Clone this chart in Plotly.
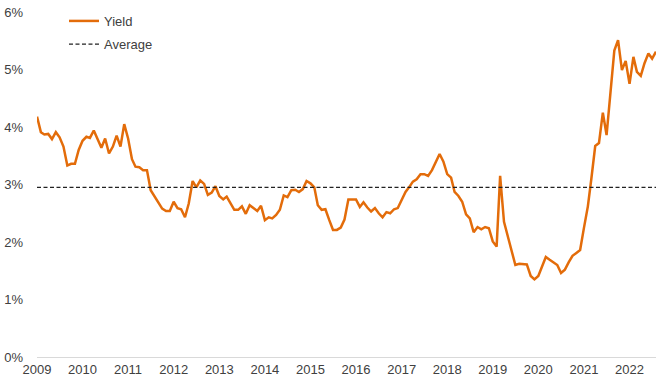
import plotly.graph_objects as go
import pandas as pd

# Monthly yield (%) Jan 2009 .. Aug 2022
yield_2009 = [4.18, 3.91, 3.87, 3.88, 3.79, 3.91, 3.82, 3.66, 3.33, 3.36, 3.36, 3.60]
yield_2010 = [3.76, 3.83, 3.81, 3.94, 3.79, 3.64, 3.80, 3.54, 3.66, 3.85, 3.66, 4.05]
yield_2011 = [3.80, 3.44, 3.31, 3.30, 3.25, 3.25, 2.90, 2.79, 2.67, 2.58, 2.54, 2.54]
yield_2012 = [2.70, 2.59, 2.57, 2.43, 2.67, 3.06, 2.95, 3.07, 3.01, 2.82, 2.86, 2.97]
yield_2013 = [2.80, 2.74, 2.79, 2.68, 2.56, 2.56, 2.62, 2.49, 2.64, 2.59, 2.54, 2.63]
yield_2014 = [2.38, 2.43, 2.41, 2.47, 2.56, 2.81, 2.78, 2.90, 2.91, 2.87, 2.92, 3.06]
yield_2015 = [3.02, 2.95, 2.64, 2.56, 2.57, 2.38, 2.21, 2.21, 2.25, 2.39, 2.74, 2.74]
yield_2016 = [2.74, 2.61, 2.69, 2.60, 2.53, 2.59, 2.50, 2.43, 2.52, 2.50, 2.57, 2.59]
yield_2017 = [2.73, 2.87, 2.95, 3.05, 3.09, 3.18, 3.18, 3.15, 3.25, 3.40, 3.53, 3.40]
yield_2018 = [3.18, 3.12, 2.87, 2.80, 2.70, 2.48, 2.41, 2.17, 2.26, 2.22, 2.26, 2.24]
yield_2019 = [2.01, 1.92, 3.15, 2.35, 2.09, 1.86, 1.60, 1.62, 1.62, 1.61, 1.41, 1.35]
yield_2020 = [1.41, 1.60, 1.74, 1.69, 1.64, 1.60, 1.46, 1.52, 1.65, 1.76, 1.81, 1.86]
yield_2021 = [2.25, 2.62, 3.10, 3.67, 3.72, 4.25, 3.86, 4.61, 5.33, 5.51, 4.99, 5.15]
yield_2022 = [4.75, 5.22, 4.96, 4.89, 5.11, 5.28, 5.19, 5.31]

yield_values = (yield_2009 + yield_2010 + yield_2011 + yield_2012 + yield_2013 +
                yield_2014 + yield_2015 + yield_2016 + yield_2017 + yield_2018 +
                yield_2019 + yield_2020 + yield_2021 + yield_2022)
dates = pd.date_range("2009-01-01", periods=len(yield_values), freq="MS")

AVERAGE = 2.95

year_ticks = list(range(2009, 2023))
y_ticks = [0, 1, 2, 3, 4, 5, 6]
y_tick_labels = [f"{v}%" for v in y_ticks]

ORANGE = "#E36C0A"
FONT = "Liberation Sans, Arial, sans-serif"
TEXT = "#404040"

fig = go.Figure()
fig.add_trace(go.Scatter(
    x=dates, y=yield_values, mode="lines", name="Yield",
    line=dict(color=ORANGE, width=2.5), legend="legend", showlegend=True,
))
fig.add_trace(go.Scatter(
    x=[dates[0], dates[-1]], y=[AVERAGE, AVERAGE], mode="lines", name="Average",
    line=dict(color="#222222", width=1.3, dash="4px,2.5px"), legend="legend2",
    showlegend=True,
))

fig.update_layout(
    width=660, height=387,
    margin=dict(l=37, r=4, t=12, b=30, autoexpand=False),
    paper_bgcolor="white", plot_bgcolor="white",
    showlegend=True,
    font=dict(family=FONT, size=13, color=TEXT),
    legend=dict(x=0.0436, y=0.974, xanchor="left", yanchor="middle",
                bgcolor="rgba(0,0,0,0)", font=dict(size=13, color=TEXT),
                itemwidth=30),
    legend2=dict(x=0.0436, y=0.907, xanchor="left", yanchor="middle",
                 bgcolor="rgba(0,0,0,0)", font=dict(size=13, color=TEXT),
                 itemwidth=30),
    xaxis=dict(
        type="date",
        range=[dates[0], dates[-1]],
        tickvals=[pd.Timestamp(f"{y}-01-01") for y in year_ticks],
        ticktext=[str(y) for y in year_ticks],
        showgrid=False, zeroline=False, automargin=False,
        showline=True, linecolor="#d9d9d9", linewidth=1,
        ticks="", tickfont=dict(size=13, color=TEXT),
    ),
    yaxis=dict(
        range=[0, 6], automargin=False,
        tickvals=y_ticks, ticktext=y_tick_labels,
        showgrid=False, zeroline=False, showline=False,
        ticks="", ticklabelstandoff=13,
        tickfont=dict(size=13, color=TEXT),
    ),
)

fig.write_html("out.html", config={"displayModeBar": False},
               post_script="document.body.style.margin='0';")
